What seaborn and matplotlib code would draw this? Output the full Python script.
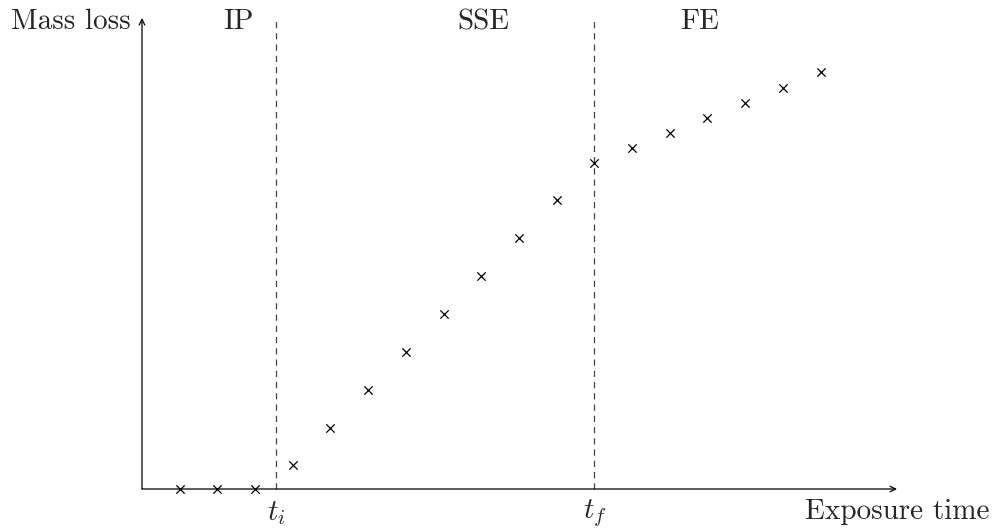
import numpy as np
import pandas as pd
import matplotlib
matplotlib.use("Agg")
import matplotlib.pyplot as plt
import seaborn as sns

# measured values (one step per sample, arbitrary units)
EXPOSURE = list(range(1, 19))
MASS_LOSS = [0, 0, 0, 0.64, 1.62, 2.63, 3.63, 4.64, 5.65, 6.66,
             7.67, 8.65, 9.05, 9.44, 9.84, 10.24, 10.64, 11.06]
T_I = 3.55
T_F = 12.0
PHASES = ['IP', 'SSE', 'FE']
PHASE_X = [2.55, 9.05, 14.8]

sns.set_style('white')
plt.rcParams['font.family'] = ['cmr10', 'DejaVu Serif']
plt.rcParams['mathtext.fontset'] = 'cm'
plt.rcParams['axes.formatter.use_mathtext'] = True

df = pd.DataFrame({'t': EXPOSURE, 'm': MASS_LOSS})

fig = plt.figure(figsize=(9.95, 5.29), dpi=100)
ax = fig.add_axes([0, 0, 1, 1])
px = 37.7
ax.set_xlim(-142 / px, (995 - 142) / px)
ax.set_ylim(-40 / px, 489 / px)
ax.axis('off')

sns.scatterplot(data=df, x='t', y='m', marker='x', color='black',
                s=36, linewidth=0.9, ax=ax, zorder=3)

x_end = (897 - 142) / px
y_end = (489 - 18) / px
arrow = dict(arrowstyle='->', color='black', lw=0.9, shrinkA=0, shrinkB=0,
             mutation_scale=10)
ax.annotate('', xy=(x_end, 0), xytext=(0, 0), arrowprops=arrow)
ax.annotate('', xy=(0, y_end), xytext=(0, 0), arrowprops=arrow)

for xv in [T_I, T_F]:
    ax.plot([xv, xv], [0, y_end], color='#444444', lw=0.9,
            linestyle=(0, (5, 4)), zorder=1)

fs = 21
for name, xv in zip(PHASES, PHASE_X):
    ax.text(xv, (489 - 22) / px, name, ha='center', va='center', fontsize=fs)

ax.text(-0.3, (489 - 22) / px, 'Mass loss', ha='right', va='center', fontsize=fs)
ax.text((990 - 142) / px, -23 / px, 'Exposure time', ha='right', va='center',
        fontsize=fs)
ax.text(T_I, -24 / px, r'$t_i$', ha='center', va='center', fontsize=fs)
ax.text(T_F, -24 / px, r'$t_f$', ha='center', va='center', fontsize=fs)

fig.savefig('out.png', dpi=100)
